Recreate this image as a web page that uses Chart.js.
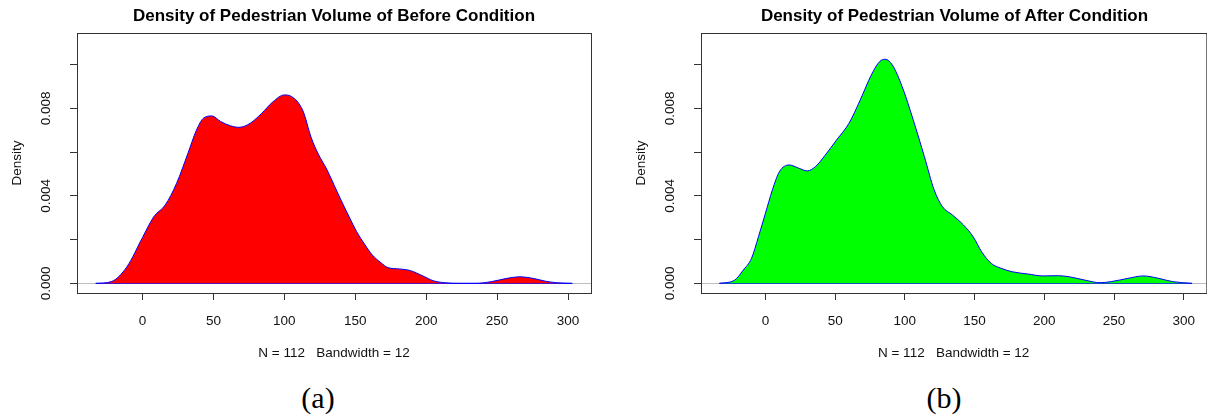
<!DOCTYPE html>
<html>
<head>
<meta charset="utf-8">
<script src="https://cdn.jsdelivr.net/npm/chart.js@4.4.0/dist/chart.umd.min.js"></script>
<style>
  body { margin: 0; width: 1207px; height: 416px; overflow: hidden; background: #fff; position: relative;
         font-family: 'Liberation Sans', Arial, sans-serif; }
  .panel { position: absolute; top: 0; }
  .title { position: absolute; top: 6px; line-height: 20px; font-size: 17px; font-weight: bold; text-align: center; color: #000; }
  .tag { position: absolute; top: 381px; width: 80px; line-height: 34px; font-size: 30px; text-align: center;
         font-family: 'Liberation Serif', 'Times New Roman', serif; color: #000; }
</style>
</head>
<body>
<canvas id="beforeChart" class="panel" style="left:0" width="603" height="370"></canvas>
<canvas id="afterChart" class="panel" style="left:624px" width="584" height="370"></canvas>
<div class="title" style="left:77px; width:514px;">Density of Pedestrian Volume of Before Condition</div>
<div class="title" style="left:701px; width:507px;">Density of Pedestrian Volume of After Condition</div>
<div class="tag" style="left:278px;">(a)</div>
<div class="tag" style="left:904px;">(b)</div>
<script>
// density curves
const beforeX = [-33, -22, -11, 0, 8, 16, 24, 32, 38, 43, 49, 55, 62, 68, 76, 84, 92, 100, 105, 113,
                 119, 124, 130, 135, 140, 146, 151, 157, 162, 168, 173, 181, 189, 197, 205, 213, 224, 235, 246, 257,
                 266, 276, 284, 292, 303];
const beforeY = [0, 0.00008, 0.00076, 0.0021, 0.00305, 0.00358, 0.00457, 0.00594, 0.0070, 0.00755,
                 0.00765, 0.0074, 0.0072, 0.00713, 0.00732, 0.00777, 0.0083, 0.00861, 0.00854, 0.0079,
                 0.00665, 0.0059, 0.0052, 0.0045, 0.0038, 0.0030, 0.00236, 0.00175, 0.0013, 0.00095,
                 0.00072, 0.00066, 0.00058, 0.00036, 0.00012, 0.00003, 0, 0, 0.00008, 0.00023,
                 0.0003, 0.00022, 0.0001, 0.00003, 0];

const afterX = [-33, -22, -16, -10, -5, 0, 5, 10, 17, 24, 30, 36, 43, 51, 60, 68, 76, 82, 86, 91,
                98, 106, 114, 121, 127, 134, 142, 149, 155, 162, 169, 177, 188, 199, 210, 218, 229, 240, 248, 260,
                271, 282, 292, 306];
const afterY = [0, 0.00015, 0.0006, 0.00114, 0.00213, 0.0032, 0.00427, 0.0051, 0.00541, 0.00526,
                0.00514, 0.00534, 0.00587, 0.00655, 0.00732, 0.00838, 0.00953, 0.01014, 0.01024, 0.00998,
                0.009, 0.00747, 0.00579, 0.00427, 0.0035, 0.00313, 0.00267, 0.00213, 0.00145, 0.00091,
                0.00069, 0.00053, 0.00043, 0.00034, 0.00035, 0.0003, 0.00015, 0.00003, 0.00008, 0.00023,
                0.00034, 0.00023, 0.00008, 0];

const xTicks = [0, 50, 100, 150, 200, 250, 300];
const yTicks = [0, 0.002, 0.004, 0.006, 0.008, 0.010];
const yTickLabels = ['0.000', '', '0.004', '', '0.008', ''];
const subTitle = 'N = 112   Bandwidth = 12';

const font = { family: "'Liberation Sans', Arial, sans-serif", size: 13.5 };

// gray zero line under the curve, box round the plot on top
const frame = {
    id: 'frame',
    beforeDatasetsDraw(chart) {
        const { ctx, chartArea: a, scales: { y } } = chart;
        const y0 = Math.round(y.getPixelForValue(0)) + 0.5;
        ctx.save();
        ctx.strokeStyle = '#bebebe';
        ctx.lineWidth = 1;
        ctx.beginPath();
        ctx.moveTo(a.left, y0);
        ctx.lineTo(a.right, y0);
        ctx.stroke();
        ctx.restore();
    },
    afterDraw(chart) {
        const { ctx, chartArea: a } = chart;
        ctx.save();
        ctx.strokeStyle = '#333';
        ctx.lineWidth = 1;
        ctx.strokeRect(a.left + 0.5, a.top + 0.5, a.right - a.left, a.bottom - a.top);
        ctx.restore();
    }
};

function makeChart(canvas, xs, ys, fillColour, padRight) {
    const curve = xs.map((x, i) => ({ x: x, y: ys[i] }));
    const base = [{ x: xs[0], y: 0 }, { x: xs[xs.length - 1], y: 0 }];
    return new Chart(canvas, {
        type: 'line',
        data: {
            datasets: [
                { data: curve, borderColor: '#0000ff', borderWidth: 1, backgroundColor: fillColour,
                  fill: 'origin', pointRadius: 0, cubicInterpolationMode: 'monotone' },
                { data: base, borderColor: '#0000ff', borderWidth: 1, pointRadius: 0, fill: false }
            ]
        },
        options: {
            responsive: false,
            animation: false,
            layout: { padding: { top: 33, left: 0, right: padRight, bottom: 0 } },
            plugins: { legend: { display: false }, tooltip: { enabled: false } },
            scales: {
                x: {
                    type: 'linear', min: -46.2, max: 316.2,
                    afterBuildTicks: ax => { ax.ticks = xTicks.map(v => ({ value: v })); },
                    afterFit: ax => { ax.height = 77; },
                    border: { display: false },
                    grid: { drawOnChartArea: false, drawTicks: true, tickLength: 7, tickColor: '#333' },
                    ticks: { autoSkip: false, maxRotation: 0, padding: 13, font: font, color: '#111' },
                    title: { display: true, text: subTitle, font: font, color: '#111', padding: { top: 0, bottom: 9 } }
                },
                y: {
                    min: -0.00044, max: 0.01144,
                    afterBuildTicks: ax => { ax.ticks = yTicks.map(v => ({ value: v })); },
                    afterFit: ax => { ax.width = 77; },
                    border: { display: false },
                    grid: { drawOnChartArea: false, drawTicks: true, tickLength: 7, tickColor: '#333' },
                    ticks: { autoSkip: false, minRotation: 90, maxRotation: 90, crossAlign: 'center', padding: 7,
                             font: font, color: '#111', callback: (v, i) => yTickLabels[i] },
                    title: { display: true, text: 'Density', font: font, color: '#111', padding: { top: 9, bottom: 0 } }
                }
            }
        },
        plugins: [frame]
    });
}

makeChart(document.getElementById('beforeChart'), beforeX, beforeY, '#ff0000', 12);
makeChart(document.getElementById('afterChart'), afterX, afterY, '#00ff00', 0);
</script>
</body>
</html>
